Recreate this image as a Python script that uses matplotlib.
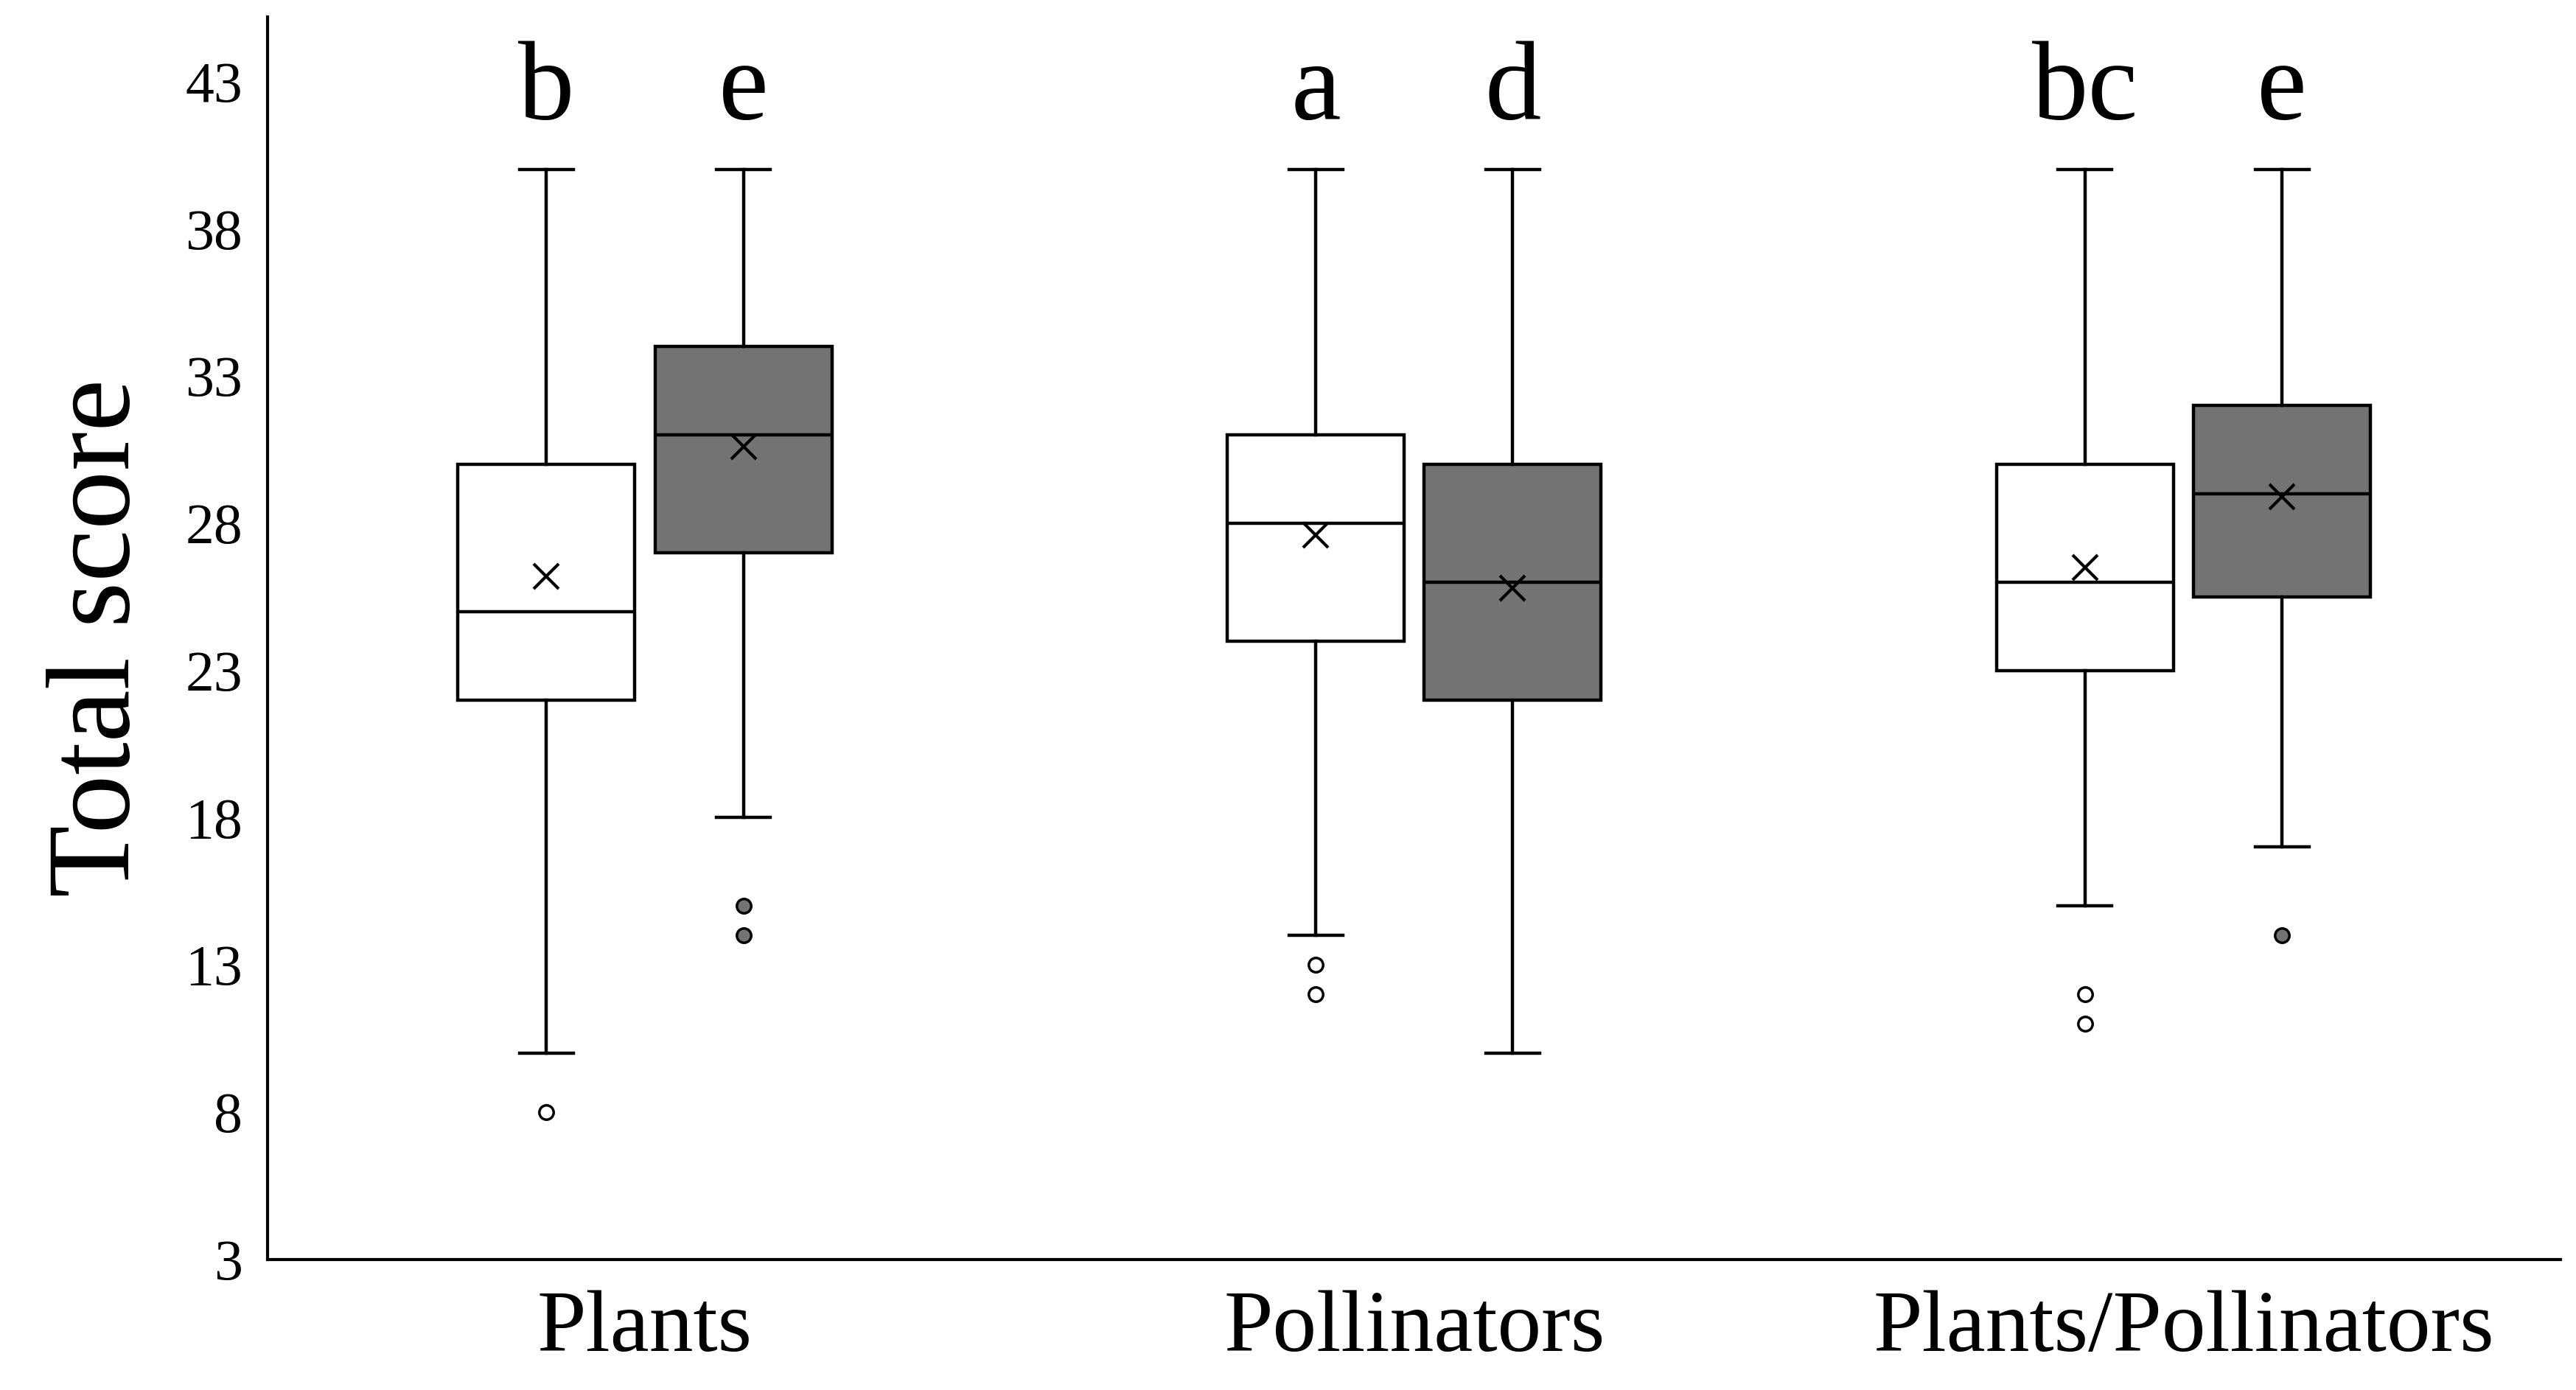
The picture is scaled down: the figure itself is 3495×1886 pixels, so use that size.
import matplotlib
matplotlib.use("Agg")
import matplotlib.pyplot as plt

groups = ["Plants", "Pollinators", "Plants/Pollinators"]
# per box: [whislo, q1, med, q3, whishi, mean]
white_stats = [[10, 22, 25, 30, 40, 26.2], [14, 24, 28, 31, 40, 27.6], [15, 23, 26, 30, 40, 26.5]]
grey_stats = [[18, 27, 31, 34, 40, 30.6], [10, 22, 26, 30, 40, 25.8], [17, 25.5, 29, 32, 40, 28.9]]
white_fliers = [[8], [13, 12], [12, 11]]
grey_fliers = [[15, 14], [], [14]]
white_letters = ["b", "a", "bc"]
grey_letters = ["e", "d", "e"]
yticks = [3, 8, 13, 18, 23, 28, 33, 38, 43]

plt.rcParams['font.family'] = ['Liberation Serif', 'DejaVu Serif']
fig = plt.figure(figsize=(34.95, 18.86), dpi=100)
ax = fig.add_axes([0.104, 0.094, 0.89, 0.894])

def mk(s, fl):
    return dict(whislo=s[0], q1=s[1], med=s[2], q3=s[3], whishi=s[4], mean=s[5], fliers=fl)

lw = 3.2
for stats, fliers, color, off in [(white_stats, white_fliers, "white", -0.128),
                                  (grey_stats, grey_fliers, "#737373", 0.128)]:
    bs = [mk(s, f) for s, f in zip(stats, fliers)]
    pos = [i + 1 + off for i in range(3)]
    ax.bxp(bs, positions=pos, widths=0.23, showmeans=True, patch_artist=True,
           boxprops=dict(facecolor=color, edgecolor="black", linewidth=lw),
           medianprops=dict(color="black", linewidth=lw),
           whiskerprops=dict(color="black", linewidth=lw),
           capprops=dict(color="black", linewidth=lw),
           capwidths=0.07,
           meanprops=dict(marker="x", markeredgecolor="black", markersize=24, markeredgewidth=3),
           flierprops=dict(marker="o", markerfacecolor=color, markeredgecolor="black",
                           markersize=14, markeredgewidth=2.5))

for i in range(3):
    ax.text(i + 1 - 0.128, 41.7, white_letters[i], ha="center", va="baseline", fontsize=110)
    ax.text(i + 1 + 0.128, 41.7, grey_letters[i], ha="center", va="baseline", fontsize=110)

ax.set_xlim(0.51, 3.49)
ax.set_ylim(3, 45.2)
ax.set_yticks(yticks)
ax.set_xticks([1, 2, 3])
ax.set_xticklabels(groups)
ax.tick_params(axis="y", length=0, labelsize=56, pad=25)
ax.tick_params(axis="x", length=0, labelsize=86, pad=30)
ax.set_ylabel("Total score", fontsize=115, labelpad=30)
for s in ["top", "right"]:
    ax.spines[s].set_visible(False)
for s in ["left", "bottom"]:
    ax.spines[s].set_linewidth(3)
fig.savefig("out.png", dpi=100, facecolor="white")
